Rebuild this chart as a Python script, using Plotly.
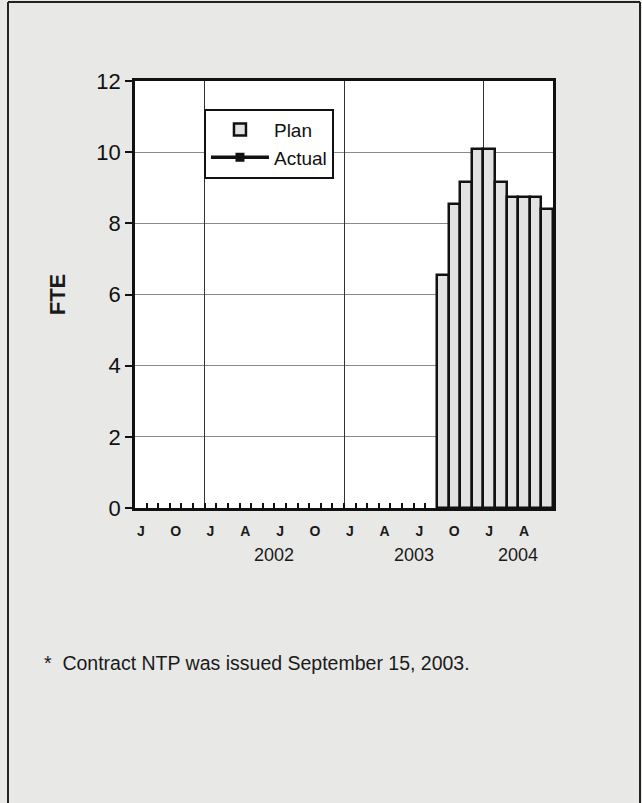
import plotly.graph_objects as go

# ---- data ----
axis_months = ["2001-07", "2001-08", "2001-09", "2001-10", "2001-11", "2001-12",
               "2002-01", "2002-02", "2002-03", "2002-04", "2002-05", "2002-06",
               "2002-07", "2002-08", "2002-09", "2002-10", "2002-11", "2002-12",
               "2003-01", "2003-02", "2003-03", "2003-04", "2003-05", "2003-06",
               "2003-07", "2003-08", "2003-09", "2003-10", "2003-11", "2003-12",
               "2004-01", "2004-02", "2004-03", "2004-04", "2004-05", "2004-06"]
tick_months = ["2001-07", "2001-10", "2002-01", "2002-04", "2002-07", "2002-10",
               "2003-01", "2003-04", "2003-07", "2003-10", "2004-01", "2004-04"]
tick_letters = ["J", "O", "J", "A", "J", "O", "J", "A", "J", "O", "J", "A"]
years = ["2002", "2003", "2004"]
plan_months = ["2003-09", "2003-10", "2003-11", "2003-12", "2004-01",
               "2004-02", "2004-03", "2004-04", "2004-05", "2004-06"]
plan_fte = [6.55, 8.55, 9.15, 10.1, 10.1, 9.15, 8.75, 8.75, 8.75, 8.4]
actual_months = [None]
actual_fte = [None]
y_ticks = [0, 2, 4, 6, 8, 10, 12]
footnote = "*  Contract NTP was issued September 15, 2003."

idx = {m: i for i, m in enumerate(axis_months)}
FONT = "Liberation Sans, Arial, sans-serif"

fig = go.Figure()
fig.add_trace(go.Bar(
    x=[idx[m] for m in plan_months], y=plan_fte, name="Plan",
    marker=dict(color="#e2e2e2", line=dict(color="#111111", width=2.5)),
    width=1.0,
))
fig.add_trace(go.Scatter(
    x=[idx[m] if m else None for m in actual_months], y=actual_fte, name="Actual",
    mode="lines+markers",
    line=dict(color="#111111", width=3.5),
    marker=dict(symbol="square", size=9, color="#111111"),
))

# year boundary positions (January of each year) for vertical gridlines
jan_bounds = [idx[y + "-01"] - 0.5 for y in years]
year_centers = []
for y in years:
    ms = [idx[m] for m in axis_months if m.startswith(y)]
    year_centers.append(sum(ms) / len(ms))

fig.update_layout(
    width=642, height=803,
    margin=dict(l=135, r=89, t=81, b=295),
    paper_bgcolor="#e8e8e6",
    plot_bgcolor="#ffffff",
    font=dict(family=FONT, color="#1a1a1a"),
    showlegend=True,
    bargap=0,
    legend=dict(
        x=0.165, y=0.935, xanchor="left", yanchor="top",
        bgcolor="#ffffff", bordercolor="#111111", borderwidth=2,
        font=dict(size=19, family=FONT, color="#111111"),
        itemwidth=58, tracegroupgap=2,
    ),
    xaxis=dict(
        range=[-0.5, len(axis_months) - 0.5],
        tickmode="array",
        tickvals=[idx[m] for m in tick_months],
        ticktext=tick_letters,
        tickfont=dict(size=14, family=FONT, color="#1a1a1a", weight="bold"),
        ticks="", ticklabelstandoff=8,
        showgrid=False, zeroline=False,
        showline=True, linecolor="#111111", linewidth=2.5, mirror=True,
        minor=dict(tickvals=[i + 0.5 for i in range(len(axis_months) - 1)],
                   ticks="inside", ticklen=5, tickcolor="#111111", tickwidth=1.5,
                   showgrid=False),
    ),
    xaxis2=dict(
        overlaying="x", matches="x", side="bottom",
        tickmode="array", tickvals=jan_bounds, showticklabels=False,
        ticks="", showgrid=True, gridcolor="#333333", gridwidth=1,
        zeroline=False, showline=False,
    ),
    yaxis=dict(
        range=[0, 12], tickmode="array", tickvals=y_ticks,
        tickfont=dict(size=22, family=FONT, color="#111111"),
        ticks="outside", ticklen=7, tickcolor="#111111", tickwidth=2,
        showgrid=True, gridcolor="#8a8a8a", gridwidth=1,
        zeroline=False,
        showline=True, linecolor="#111111", linewidth=2.5, mirror=True,
        title=dict(text="<b>FTE</b>", font=dict(size=22, family=FONT, color="#1a1a1a"),
                   standoff=25),
    ),
)

# dummy invisible trace to activate xaxis2 gridlines
fig.add_trace(go.Scatter(x=[None], y=[None], xaxis="x2", showlegend=False,
                         hoverinfo="skip"))

for y, c in zip(years, year_centers):
    fig.add_annotation(x=c, y=-0.11, xref="x", yref="paper", text=y,
                       showarrow=False, xanchor="center", yanchor="middle",
                       font=dict(size=18, family=FONT, color="#1a1a1a"))

fig.add_annotation(x=-0.222, y=-0.363, xref="paper", yref="paper", text=footnote,
                   showarrow=False, xanchor="left", yanchor="middle",
                   font=dict(size=19.5, family=FONT, color="#1a1a1a"))

# page frame
fig.add_shape(type="line", xref="paper", yref="paper",
              x0=(8 - 135) / 418, x1=(8 - 135) / 418, y0=-0.8, y1=(508 - 2) / 427,
              line=dict(color="#222222", width=2))
fig.add_shape(type="line", xref="paper", yref="paper",
              x0=(8 - 135) / 418, x1=(640 - 135) / 418, y0=(508 - 2) / 427, y1=(508 - 2) / 427,
              line=dict(color="#222222", width=2))
fig.add_shape(type="line", xref="paper", yref="paper",
              x0=(640 - 135) / 418, x1=(640 - 135) / 418, y0=-0.8, y1=(508 - 2) / 427,
              line=dict(color="#222222", width=2))

fig.write_html("out.html", config={"displayModeBar": False},
               post_script="document.body.style.margin='0';document.body.style.overflow='hidden';")
